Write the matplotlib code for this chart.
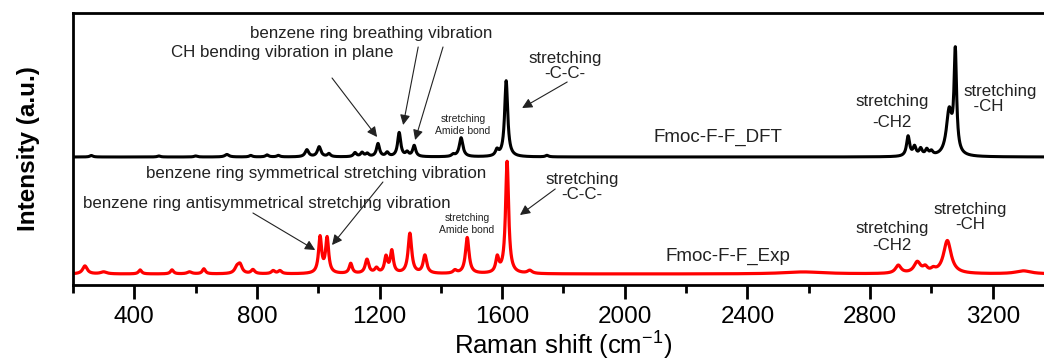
import numpy as np
import matplotlib.pyplot as plt

plt.rcParams['font.family'] = ['Liberation Sans', 'DejaVu Sans']

# peak lists (position cm-1, height a.u., half width)
dft_pos = [260, 480, 600, 702, 780, 833, 870, 963, 1003, 1035, 1120, 1143, 1160, 1195, 1225,
           1264, 1290, 1313, 1440, 1466, 1583, 1613, 1746, 2924, 2945, 2965, 2985, 3000, 3058, 3078]
dft_h = [1.5, 1, 1, 2.5, 1.5, 2, 1.5, 7, 10, 3, 4, 4, 3, 13, 4,
         24, 4, 11, 2, 19, 6, 76, 1.5, 20, 9, 7, 6, 4, 44, 100]
dft_w = [6, 6, 6, 8, 6, 6, 6, 7, 7, 6, 6, 6, 6, 6, 6,
         6, 6, 6, 6, 7, 6, 6, 6, 6, 6, 6, 6, 6, 11, 5]

exp_pos = [239, 300, 419, 523, 580, 627, 735, 745, 787, 853, 875, 1006, 1029, 1106, 1159, 1190,
           1221, 1240, 1299, 1348, 1446, 1486, 1584, 1616, 1690, 2582, 2892, 2954, 2980, 3006, 3052, 3300]
exp_h = [8, 2, 4, 4, 2, 5, 6, 8, 4, 3, 3, 36, 35, 10, 14, 5,
         16, 22, 40, 18, 3, 36, 15, 112, 3, 2, 8, 11, 5, 3, 33, 3]
exp_w = [9, 12, 6, 6, 9, 6, 9, 8, 7, 7, 7, 6, 6, 6, 7, 7,
         6, 6, 7, 7, 7, 7, 6, 6, 9, 80, 11, 13, 9, 9, 15, 30]

dft_base = 128
exp_base = 11


def spectrum(x, pos, h, w):
    y = np.zeros_like(x)
    for p, a, g in zip(pos, h, w):
        y += a * g**2 / ((x - p)**2 + g**2)
    return y


x = np.arange(200, 3401, 1.0)
y_dft = dft_base + spectrum(x, dft_pos, dft_h, dft_w)
y_exp = exp_base + spectrum(x, exp_pos, exp_h, exp_w)

fig = plt.figure(figsize=(10.44, 3.62), dpi=100)
ax = fig.add_axes([0.0699, 0.2127, 0.9397, 0.7514])

ax.plot(x, y_dft, color='black', lw=2.2)
ax.plot(x, y_exp, color='red', lw=2.3)

ax.set_xlim(200, 3400)
ax.set_ylim(0, 272)
ax.set_xticks(np.arange(400, 3400, 400))
ax.set_xticks(np.arange(200, 3400, 200), minor=True)
ax.set_yticks([])
ax.tick_params(axis='x', which='major', direction='out', length=10, width=2, labelsize=17.5, pad=5)
ax.tick_params(axis='x', which='minor', direction='out', length=6, width=2)
for s in ax.spines.values():
    s.set_linewidth(2)

ax.set_xlabel('Raman shift (cm$^{\\mathregular{-1}}$)', fontsize=18.5, labelpad=0)
ax.set_ylabel('Intensity (a.u.)', fontsize=17.5, fontweight='bold', labelpad=24)

tc = '#222222'
ap = dict(arrowstyle='-|>', color='#222222', lw=0.8, mutation_scale=15, shrinkA=0, shrinkB=0)
fs = 12.2

# DFT labels
ax.text(1172, 251, 'benzene ring breathing vibration', fontsize=fs, color=tc, ha='center', va='center')
ax.annotate('', xy=(1277, 160), xytext=(1326, 238), arrowprops=ap)
ax.annotate('', xy=(1316, 145), xytext=(1407, 238), arrowprops=ap)
ax.text(882, 232, 'CH bending vibration in plane', fontsize=fs, color=tc, ha='center', va='center')
ax.annotate('', xy=(1192, 148), xytext=(1045, 207), arrowprops=ap)
ax.text(1472, 160, 'stretching\nAmide bond', fontsize=7.5, color=tc, ha='center', va='center')
ax.text(1805, 219, 'stretching\n-C-C-', fontsize=fs, color=tc, ha='center', va='center', linespacing=0.95)
ax.annotate('', xy=(1665, 177), xytext=(1812, 203), arrowprops=ap)
ax.text(2304, 148, 'Fmoc-F-F_DFT', fontsize=13.5, color=tc, ha='center', va='center')
ax.text(2872, 173, 'stretching\n-CH2', fontsize=fs, color=tc, ha='center', va='center', linespacing=1.45)
ax.text(3106, 186, 'stretching\n  -CH', fontsize=fs, color=tc, ha='left', va='center', linespacing=1.0)

# Exp labels
ax.text(993, 111, 'benzene ring symmetrical stretching vibration', fontsize=fs, color=tc, ha='center', va='center')
ax.text(833, 82, 'benzene ring antisymmetrical stretching vibration', fontsize=fs, color=tc, ha='center', va='center')
ax.annotate('', xy=(990, 35), xytext=(787, 72), arrowprops=ap)
ax.annotate('', xy=(1045, 40), xytext=(1211, 103), arrowprops=ap)
ax.text(1485, 61, 'stretching\nAmide bond', fontsize=7.5, color=tc, ha='center', va='center')
ax.text(1861, 98, 'stretching\n-C-C-', fontsize=fs, color=tc, ha='center', va='center', linespacing=0.95)
ax.annotate('', xy=(1658, 70), xytext=(1773, 96), arrowprops=ap)
ax.text(2337, 29, 'Fmoc-F-F_Exp', fontsize=13.5, color=tc, ha='center', va='center')
ax.text(2872, 48, 'stretching\n-CH2', fontsize=fs, color=tc, ha='center', va='center', linespacing=1.2)
ax.text(3127, 68, 'stretching\n-CH', fontsize=fs, color=tc, ha='center', va='center', linespacing=1.0)

fig.savefig('out.png', dpi=100)
